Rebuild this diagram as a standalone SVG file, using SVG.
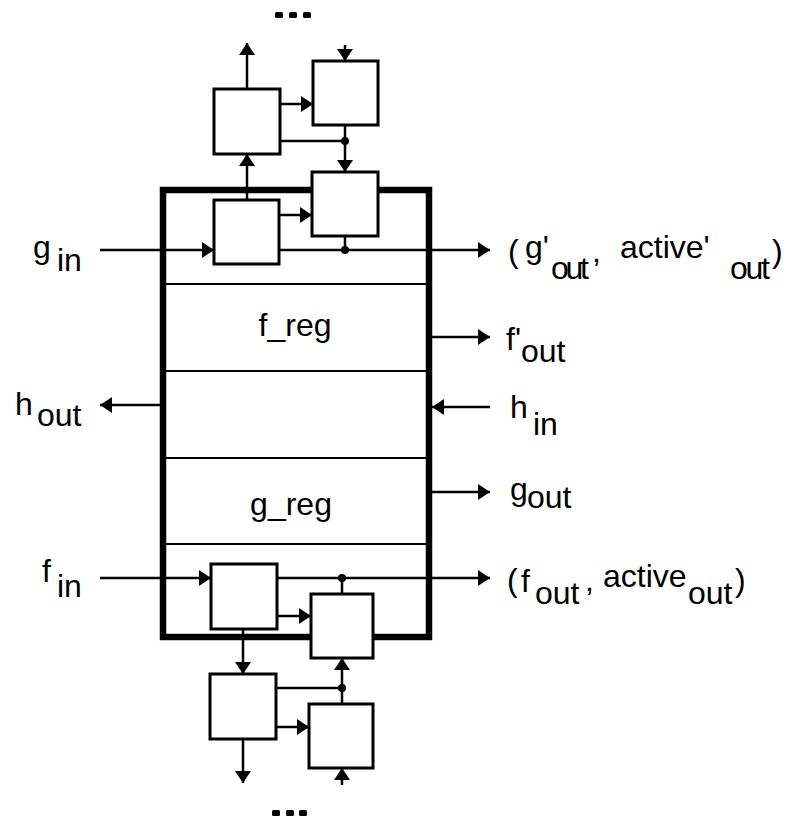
<svg xmlns="http://www.w3.org/2000/svg" width="785" height="818" viewBox="0 0 785 818">
<defs>
<style>
.box{fill:#fff;stroke:#000;stroke-width:3}
.frame{fill:none;stroke:#000;stroke-width:6.5}
.div{stroke:#000;stroke-width:2;fill:none}
.ln{stroke:#000;stroke-width:2.5;fill:none}
.arr{marker-end:url(#ah)}
.dot{fill:#000}
text{font-family:"Liberation Sans",Arial,sans-serif;font-size:32px;fill:#000}
</style>
<marker id="ah" viewBox="0 0 12 16" refX="12" refY="8" markerWidth="12" markerHeight="16" orient="auto" markerUnits="userSpaceOnUse">
<path d="M0,0 L12,8 L0,16 Z" fill="#000"/>
</marker>
</defs>
<rect width="785" height="818" fill="#fff"/>

<g id="ellipsis-top">
<rect x="275" y="12" width="8" height="6" rx="1.5" class="dot"/>
<rect x="289" y="12" width="8" height="6" rx="1.5" class="dot"/>
<rect x="303" y="12" width="8" height="6" rx="1.5" class="dot"/>
</g>
<g id="ellipsis-bottom">
<rect x="272" y="810" width="8" height="6" rx="1.5" class="dot"/>
<rect x="286" y="810" width="8" height="6" rx="1.5" class="dot"/>
<rect x="299" y="810" width="8" height="6" rx="1.5" class="dot"/>
</g>

<g id="cell">
<rect class="frame" x="163" y="190" width="266" height="447"/>
<line class="div" x1="163" y1="284" x2="429" y2="284"/>
<line class="div" x1="163" y1="371" x2="429" y2="371"/>
<line class="div" x1="163" y1="458" x2="429" y2="458"/>
<line class="div" x1="163" y1="544" x2="429" y2="544"/>
</g>
<g id="f_reg"><text x="295" y="336" text-anchor="middle">f_reg</text></g>
<g id="g_reg"><text x="291" y="515" text-anchor="middle">g_reg</text></g>

<g id="connectors">
<path class="ln arr" d="M247,89 V43"/>
<path class="ln arr" d="M345,45 V61"/>
<path class="ln arr" d="M280,104 H313"/>
<path class="ln" d="M280,141 H345"/>
<path class="ln arr" d="M345,125 V172"/>
<path class="ln arr" d="M247,200 V154"/>
<path class="ln arr" d="M279,215 H312"/>
<path class="ln arr" d="M100,250 H214"/>
<path class="ln arr" d="M279,250 H490"/>
<path class="ln" d="M345,236 V250"/>
<path class="ln arr" d="M432,337 H490"/>
<path class="ln arr" d="M490,407 H432"/>
<path class="ln arr" d="M432,492 H490"/>
<path class="ln arr" d="M160,405 H100"/>
<path class="ln arr" d="M100,578 H211"/>
<path class="ln arr" d="M277,578 H490"/>
<path class="ln" d="M342,594 V578"/>
<path class="ln arr" d="M277,616 H311"/>
<path class="ln arr" d="M243,629 V674"/>
<path class="ln" d="M276,688 H342"/>
<path class="ln arr" d="M342,688 V658"/>
<path class="ln" d="M342,704 V688"/>
<path class="ln arr" d="M276,727 H309"/>
<path class="ln arr" d="M243,739 V783"/>
<path class="ln arr" d="M342,785 V768"/>
<circle class="dot" cx="345" cy="141" r="4"/>
<circle class="dot" cx="345" cy="250" r="4"/>
<circle class="dot" cx="342" cy="578" r="4"/>
<circle class="dot" cx="342" cy="688" r="4"/>
</g>

<g id="box-top-a"><rect class="box" x="214" y="89" width="66" height="65"/></g>
<g id="box-top-b"><rect class="box" x="313" y="61" width="65" height="64"/></g>
<g id="box-top-c"><rect class="box" x="214" y="200" width="65" height="64"/></g>
<g id="box-top-d"><rect class="box" x="312" y="172" width="66" height="64"/></g>
<g id="box-bot-e"><rect class="box" x="211" y="564" width="66" height="65"/></g>
<g id="box-bot-f"><rect class="box" x="311" y="594" width="62" height="64"/></g>
<g id="box-bot-g"><rect class="box" x="210" y="674" width="66" height="65"/></g>
<g id="box-bot-h"><rect class="box" x="309" y="704" width="64" height="64"/></g>

<g id="label-g-in"><text><tspan x="33" y="258">g</tspan><tspan x="57" y="271">in</tspan></text></g>
<g id="label-h-out"><text><tspan x="15" y="415">h</tspan><tspan x="37" y="426">out</tspan></text></g>
<g id="label-f-in"><text><tspan x="42" y="582">f</tspan><tspan x="57" y="597">in</tspan></text></g>

<g id="label-g1-out"><text><tspan x="508" y="262">(</tspan><tspan x="525" y="258">g'</tspan><tspan x="551" y="279" textLength="38">out</tspan><tspan x="592" y="262">,</tspan><tspan x="620" y="258">active'</tspan><tspan x="730" y="279" textLength="40">out</tspan><tspan x="772" y="262">)</tspan></text></g>
<g id="label-f1-out"><text><tspan x="506" y="350">f'</tspan><tspan x="521" y="362">out</tspan></text></g>
<g id="label-h-in"><text><tspan x="510" y="418">h</tspan><tspan x="533" y="435">in</tspan></text></g>
<g id="label-g-out"><text><tspan x="510" y="500">g</tspan><tspan x="527" y="508">out</tspan></text></g>
<g id="label-f-out"><text><tspan x="507" y="591">(</tspan><tspan x="521" y="592">f</tspan><tspan x="535" y="604">out</tspan><tspan x="585" y="591">,</tspan><tspan x="603" y="587">active</tspan><tspan x="688" y="604">out</tspan><tspan x="735" y="591">)</tspan></text></g>
</svg>
